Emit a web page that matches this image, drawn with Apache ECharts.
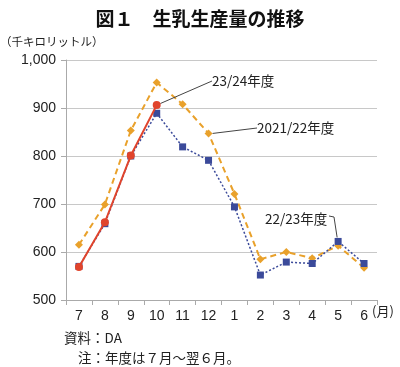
<!DOCTYPE html>
<html><head><meta charset="utf-8">
<script src="https://cdn.jsdelivr.net/npm/echarts@6/dist/echarts.min.js"></script>
<style>html,body{margin:0;padding:0;background:#fff}#c{width:400px;height:367px}</style>
</head><body><div id="c"></div>
<script>
const months = ['7','8','9','10','11','12','1','2','3','4','5','6'];
const s2122 = [615, 699, 853, 953, 908, 847, 721, 585, 600, 587, 613, 567];
const s2223 = [570, 659, 800, 889, 819, 791, 694, 552, 579, 576, 622, 576];
const s2324 = [569, 662, 801, 906];
const yTicks = [500, 600, 700, 800, 900, 1000];

const JP = '"Noto Sans CJK JP","Liberation Sans",sans-serif';
const NUM = '"Liberation Sans",Arial,sans-serif';
const chart = echarts.init(document.getElementById('c'), null, {renderer:'canvas'});

function lbl(arr, idx, text, line){
  return arr.map((v,i)=> i===idx ? {value:v, label:{show:true, formatter:text}, labelLine:{show:line}} : v);
}

const labelPos = {
  '23/24年度': {x:212, y:81},
  '2021/22年度': {x:257, y:128},
  '22/23年度': {x:265, y:219}
};

chart.setOption({
  animation:false,
  title:[{text:'図１　生乳生産量の推移', left:'center', top:4, textStyle:{fontFamily:JP, fontSize:19, fontWeight:'bold', color:'#111'}}],
  grid:{left:66, right:23, top:60, bottom:67},
  xAxis:{type:'category', data:months, boundaryGap:true,
    axisLine:{lineStyle:{color:'#aaa'}}, axisTick:{show:true, length:5, lineStyle:{color:'#aaa'}},
    axisLabel:{color:'#222', fontSize:14, fontFamily:NUM, margin:9}},
  yAxis:{type:'value', min:500, max:1000, interval:100,
    axisLine:{show:true, lineStyle:{color:'#aaa'}}, axisTick:{show:true, length:5, lineStyle:{color:'#aaa'}},
    splitLine:{lineStyle:{color:'#c8c8c8'}},
    axisLabel:{color:'#222', fontSize:14, fontFamily:NUM, margin:10,
      formatter:v=> yTicks.includes(v) ? v.toLocaleString('en-US') : ''}},
  labelLayout: function(p){
    const pos = labelPos[p.text];
    if(!pos) return {};
    return {x:pos.x, y:pos.y, align:'left', verticalAlign:'middle'};
  },
  series:[
    {name:'2021/22年度', type:'line', data:lbl(s2122,5,'2021/22年度',true), symbol:'diamond', symbolSize:8,
      itemStyle:{color:'#e9a12b'}, lineStyle:{color:'#e9a12b', width:2, type:[6,4]}, z:2,
      label:{show:false, fontSize:13.5, color:'#222', fontFamily:JP},
      labelLine:{lineStyle:{color:'#444', width:1}}},
    {name:'22/23年度', type:'line', data:lbl(s2223,10,'22/23年度',false), symbol:'rect', symbolSize:7,
      itemStyle:{color:'#3b4a9a'}, lineStyle:{color:'#3b4a9a', width:1.5, type:[2,2]}, z:3,
      label:{show:false, fontSize:13.5, color:'#222', fontFamily:JP},
      labelLine:{lineStyle:{color:'#444', width:1}}},
    {name:'23/24年度', type:'line', data:lbl(s2324,3,'23/24年度',true), symbol:'circle', symbolSize:8,
      itemStyle:{color:'#e0442c'}, lineStyle:{color:'#e0442c', width:2}, z:4,
      label:{show:false, fontSize:13.5, color:'#222', fontFamily:JP},
      labelLine:{lineStyle:{color:'#444', width:1}}}
  ],
  graphic:[
    {id:'yname', type:'text', left:0, top:36, style:{text:'（千キロリットル）', fontSize:11.5, fontFamily:JP, fill:'#222'}},
    {id:'xunit', type:'text', left:372, top:305, style:{text:'(月)', fontSize:13, fontFamily:JP, fill:'#222'}},
    {id:'src', type:'text', left:64, top:331, style:{text:'資料：DA', fontSize:13.5, fontFamily:JP, fill:'#222'}},
    {id:'note', type:'text', left:78, top:351, style:{text:'注：年度は７月～翌６月。', fontSize:13.5, fontFamily:JP, fill:'#222'}}
  ]
});

// leader for 22/23 label: from right of label, hook down to the May point
const p = chart.convertToPixel({xAxisIndex:0, yAxisIndex:0}, [10, s2223[10]]);
chart.setOption({graphic:[
  {id:'lead', type:'polyline', z:10, shape:{points:[[329,216],[334,217],[p[0]-1, p[1]-4]]}, style:{stroke:'#444', lineWidth:1, fill:null}}
]});
</script></body></html>
